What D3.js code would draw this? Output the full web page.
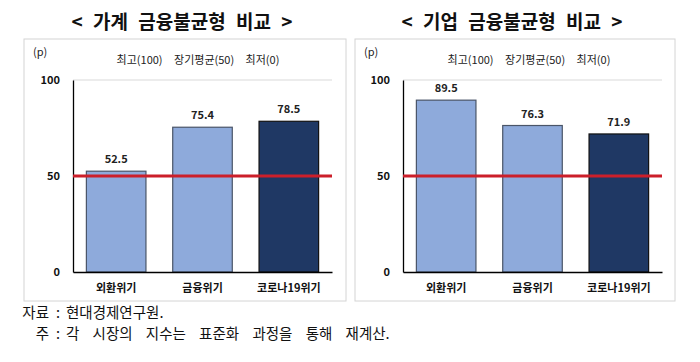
<!DOCTYPE html>
<html>
<head>
<meta charset="utf-8">
<title>금융불균형 비교</title>
<script src="https://d3js.org/d3.v7.min.js"></script>
<style>
  body { margin: 0; background: #fff; }
  text { font-family: "Noto Sans CJK KR", "Noto Sans", sans-serif; }
</style>
</head>
<body>
<div id="chart"></div>
<script>
// data
var categories = ["외환위기", "금융위기", "코로나19위기"];
var household = [52.5, 75.4, 78.5];
var corporate = [89.5, 76.3, 71.9];
var yTicks = [0, 50, 100];
var titles = ["< 가계 금융불균형 비교 >", "< 기업 금융불균형 비교 >"];
var subtitle = "최고(100) 장기평균(50) 최저(0)";
var avgLine = 50;
var notes = [["자료", "현대경제연구원."], ["주", "각 시장의 지수는 표준화 과정을 통해 재계산."]];

var W = 700, H = 362;
var svg = d3.select("#chart").append("svg")
  .attr("width", W).attr("height", H);

var barColors = ["#8eaadb", "#8eaadb", "#1f3864"];
var barStroke = ["#4a5568", "#4a5568", "#111"];

function panel(px, pw, plotLeft, title, values) {
  var plotRight = plotLeft + 259;
  // box
  svg.append("rect")
    .attr("x", px).attr("y", 39)
    .attr("width", pw).attr("height", 262)
    .attr("fill", "none").attr("stroke", "#d4d4d4").attr("stroke-width", 1);

  svg.append("text")
    .attr("x", px + pw / 2 - 3).attr("y", 29)
    .attr("text-anchor", "middle")
    .style("font-size", "19px").style("font-weight", "bold")
    .style("word-spacing", "6px")
    .attr("fill", "#111")
    .text(title);

  svg.append("text")
    .attr("x", px + 9).attr("y", 56)
    .style("font-size", "11px").attr("fill", "#222")
    .text("(p)");

  svg.append("text")
    .attr("x", px + 174).attr("y", 64)
    .attr("text-anchor", "middle")
    .style("font-size", "11px").style("word-spacing", "9px").attr("fill", "#222")
    .text(subtitle);

  var x = d3.scaleBand().domain(categories).range([plotLeft, plotRight]).paddingInner(0.31).paddingOuter(0.155);
  var y = d3.scaleLinear().domain([0, 100]).range([272, 80]);

  // top grid
  svg.append("line")
    .attr("x1", plotLeft).attr("x2", plotRight)
    .attr("y1", y(100)).attr("y2", y(100))
    .attr("stroke", "#d9d9d9").attr("stroke-width", 1);

  var g = svg.append("g");
  g.selectAll("rect.bar").data(values).enter().append("rect")
    .attr("class", "bar")
    .attr("x", function(d, i) { return x(categories[i]); })
    .attr("y", function(d) { return y(d); })
    .attr("width", x.bandwidth())
    .attr("height", function(d) { return y(0) - y(d); })
    .attr("fill", function(d, i) { return barColors[i]; })
    .attr("stroke", function(d, i) { return barStroke[i]; })
    .attr("stroke-width", 1.2);

  g.selectAll("text.val").data(values).enter().append("text")
    .attr("class", "val")
    .attr("x", function(d, i) { return x(categories[i]) + x.bandwidth() / 2; })
    .attr("y", function(d) { return y(d) - 8; })
    .attr("text-anchor", "middle")
    .style("font-size", "11px").style("font-weight", "bold").attr("fill", "#222")
    .text(function(d) { return d.toFixed(1); });

  // axes
  var yAxis = d3.axisLeft(y).tickValues(yTicks).tickSize(0).tickPadding(13);
  var ya = svg.append("g").attr("transform", "translate(" + plotLeft + ",0)").call(yAxis);
  ya.select(".domain").attr("stroke", "#000").attr("stroke-width", 1.3);
  ya.selectAll("text").style("font-size", "11px").style("font-weight", "bold")
    .attr("fill", "#111").style("font-family", "'Noto Sans CJK KR', sans-serif");

  var xAxis = d3.axisBottom(x).tickSize(0).tickPadding(12);
  var xa = svg.append("g").attr("transform", "translate(0," + y(0) + ")").call(xAxis);
  xa.select(".domain").attr("stroke", "#000").attr("stroke-width", 1.3);
  xa.selectAll("text").style("font-size", "11px").style("font-weight", "bold")
    .attr("fill", "#111").style("font-family", "'Noto Sans CJK KR', sans-serif");

  // average line
  svg.append("line")
    .attr("x1", plotLeft).attr("x2", plotRight)
    .attr("y1", y(avgLine)).attr("y2", y(avgLine))
    .attr("stroke", "#cc1f2a").attr("stroke-width", 3);
}

panel(24, 322, 73, titles[0], household);
panel(355, 320, 403, titles[1], corporate);

// footnotes
notes.forEach(function(n, i) {
  var yy = 318 + i * 21;
  svg.append("text").attr("x", 49).attr("y", yy).attr("text-anchor", "end")
    .style("font-size", "14.5px").attr("fill", "#111").text(n[0]);
  svg.append("text").attr("x", 56).attr("y", yy)
    .style("font-size", "14.5px").attr("fill", "#111").text(":");
  svg.append("text").attr("x", 66).attr("y", yy)
    .style("font-size", "14.5px").style("word-spacing", "10px").attr("fill", "#111").text(n[1]);
});
</script>
</body>
</html>
